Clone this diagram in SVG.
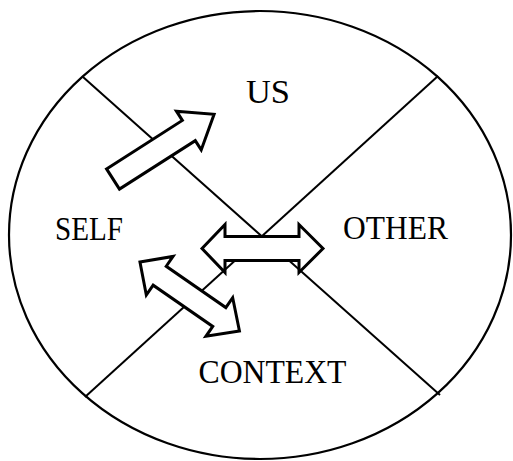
<svg xmlns="http://www.w3.org/2000/svg" width="513" height="461" viewBox="0 0 513 461">
<style>
.frame{fill:none;stroke:#000;stroke-width:2.2}
.div{fill:none;stroke:#000;stroke-width:2}
.arrow{fill:#fff;stroke:#000;stroke-width:3;stroke-linejoin:miter}
.lbl{font-family:"Liberation Serif","Times New Roman",serif;font-size:33px;fill:#000}
</style>
<rect width="513" height="461" fill="#fff"/>
<g id="frame">
<ellipse class="frame" cx="260" cy="235" rx="251" ry="224"/>
<line class="div" x1="83" y1="77" x2="440" y2="395"/>
<line class="div" x1="438" y1="76" x2="85" y2="397"/>
</g>
<g id="node-us"><text class="lbl" x="246" y="102.5" font-size="39" textLength="44" lengthAdjust="spacingAndGlyphs">US</text></g>
<g id="node-self"><text class="lbl" x="55" y="239.5" textLength="68" lengthAdjust="spacingAndGlyphs">SELF</text></g>
<g id="node-other"><text class="lbl" x="343" y="238.5" textLength="105" lengthAdjust="spacingAndGlyphs">OTHER</text></g>
<g id="node-context"><text class="lbl" x="198.5" y="383" textLength="148" lengthAdjust="spacingAndGlyphs">CONTEXT</text></g>
<g id="connectors">
<polygon class="arrow" transform="translate(113,179) rotate(-32.6)" points="0,-12 90,-12 90,-23 120,0 90,23 90,12 0,12"/>
<polygon class="arrow" transform="translate(262,248.5)" points="-60,0 -37,-24 -37,-12 37,-12 37,-24 61,0 37,24 37,12 -37,12 -37,24"/>
<polygon class="arrow" transform="translate(189.7,296.5) rotate(34.7)" points="-60.5,0 -36.5,-23.5 -36.5,-11.5 36,-11.5 36,-23.5 60.5,0 36,23.5 36,11.5 -36.5,11.5 -36.5,23.5"/>
</g>
</svg>
